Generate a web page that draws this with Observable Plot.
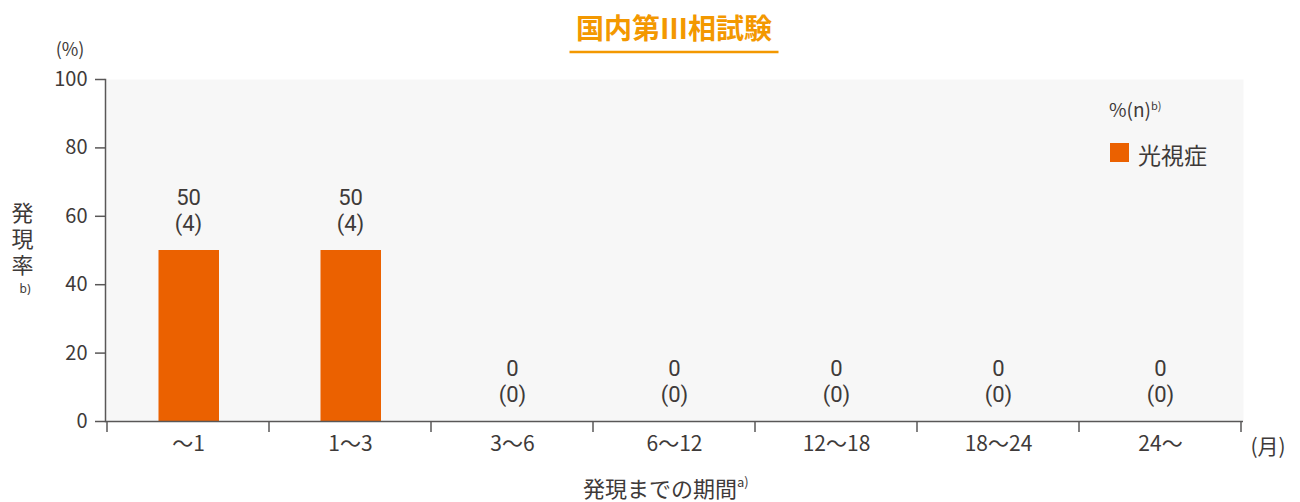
<!DOCTYPE html>
<html>
<head>
<meta charset="utf-8">
<script src="https://cdn.jsdelivr.net/npm/d3@7"></script>
<script src="https://cdn.jsdelivr.net/npm/@observablehq/plot@0.6"></script>
<style>
  html, body { margin: 0; padding: 0; background: #fff; }
</style>
</head>
<body>
<div id="chart"></div>
<script>
// ---- data ----
const categories = ["〜1", "1〜3", "3〜6", "6〜12", "12〜18", "18〜24", "24〜"];
const rates = [50, 50, 0, 0, 0, 0, 0];
const counts = [4, 4, 0, 0, 0, 0, 0];
const yTicks = [0, 20, 40, 60, 80, 100];
const seriesName = "光視症";
const titleText = "国内第Ⅲ相試験";
const xTitle = "発現までの期間";
const yTitle = "発現率";

const data = categories.map((c, i) => ({cat: c, rate: rates[i], n: counts[i]}));

const FONT = "'Noto Sans CJK JP', 'Noto Sans', sans-serif";
const NUMFONT = "Roboto, 'Noto Sans', sans-serif";
const TEXT = "#3e3a39";
const AXIS = "#595757";
const BAR = "#eb6100";
const TITLE = "#f39800";

const plot = Plot.plot({
  width: 1300,
  height: 502,
  marginTop: 79,
  marginBottom: 81,
  marginLeft: 105,
  marginRight: 57,
  style: {fontFamily: FONT, color: TEXT, background: "#fff", overflow: "visible"},
  x: {domain: categories, padding: 0},
  y: {domain: [0, 100], ticks: yTicks},
  marks: [
    Plot.frame({fill: "#f7f7f7", stroke: null}),
    Plot.barY(data, {x: "cat", y: "rate", fill: BAR, insetLeft: 51.5, insetRight: 50}),
    Plot.ruleY([0], {stroke: AXIS, strokeWidth: 1.5}),
    Plot.frame({anchor: "left", stroke: AXIS, strokeWidth: 1.5}),
    Plot.axisY({ticks: yTicks, tickSize: 10, tickPadding: 8, fontSize: 20, label: null, stroke: AXIS, strokeWidth: 1.5, fill: TEXT}),
    Plot.axisX({tickSize: 0, tickPadding: 15, fontSize: 21, label: null, fill: TEXT}),
    Plot.text(data, {
      x: "cat", y: "rate",
      text: d => `${d.rate}`,
      dy: -53, fontSize: 22, fontFamily: NUMFONT, fill: TEXT
    }),
    Plot.text(data, {
      x: "cat", y: "rate",
      text: d => `(${d.n})`,
      dy: -27, fontSize: 22, fontFamily: NUMFONT, fill: TEXT
    })
  ]
});

document.getElementById("chart").appendChild(plot);

const svg = d3.select(plot);
const xs = plot.scale("x");
const ys = plot.scale("y");
const y0 = ys.apply(0);
const xLeft = xs.apply(categories[0]);
const xRight = xs.apply(categories[categories.length - 1]) + xs.bandwidth;

// boundary ticks below the x axis
const bounds = categories.map(c => xs.apply(c)).concat([xRight]);
svg.append("g").selectAll("line").data(bounds).join("line")
  .attr("x1", d => d).attr("x2", d => d)
  .attr("y1", y0).attr("y2", y0 + 11)
  .attr("stroke", AXIS).attr("stroke-width", 1.5);

const mid = (xLeft + xRight) / 2;
const yTop = ys.apply(100);

// title
svg.append("text")
  .attr("x", mid).attr("y", 27)
  .attr("text-anchor", "middle").attr("dominant-baseline", "central")
  .attr("font-family", FONT).attr("font-size", 28).attr("font-weight", "bold")
  .attr("fill", TITLE).text(titleText);
svg.append("line")
  .attr("x1", mid - 104.5).attr("x2", mid + 104.5)
  .attr("y1", 52).attr("y2", 52)
  .attr("stroke", TITLE).attr("stroke-width", 2.5);

// (%) unit
svg.append("text")
  .attr("x", xLeft - 37).attr("y", yTop - 31)
  .attr("text-anchor", "middle").attr("dominant-baseline", "central")
  .attr("font-family", FONT).attr("font-size", 18).attr("fill", TEXT)
  .text("(%)");

// y title (vertical)
svg.append("text")
  .attr("x", 22.5).attr("y", 202)
  .attr("text-anchor", "start")
  .style("writing-mode", "vertical-rl")
  .attr("letter-spacing", 4)
  .attr("font-family", FONT).attr("font-size", 22).attr("fill", TEXT)
  .text(yTitle);
svg.append("text")
  .attr("x", 25).attr("y", 293)
  .attr("text-anchor", "middle")
  .attr("font-family", "'Noto Sans', sans-serif").attr("font-size", 12).attr("fill", TEXT)
  .text("b)");

// (月)
svg.append("text")
  .attr("x", xRight + 27).attr("y", y0 + 24)
  .attr("text-anchor", "middle").attr("dominant-baseline", "central")
  .attr("font-family", FONT).attr("font-size", 21).attr("fill", TEXT)
  .text("(月)");

// x title
const xt = svg.append("text")
  .attr("x", 583).attr("y", 487)
  .attr("text-anchor", "start").attr("dominant-baseline", "central")
  .attr("font-family", FONT).attr("font-size", 22).attr("fill", TEXT);
xt.append("tspan").text(xTitle);
xt.append("tspan").attr("font-size", 13).attr("dy", -6).text("a)");

// legend
const lg = svg.append("text")
  .attr("x", xRight - 132).attr("y", 117)
  .attr("text-anchor", "start")
  .attr("font-family", FONT).attr("font-size", 19).attr("fill", TEXT);
lg.append("tspan").text("%(n)");
lg.append("tspan").attr("font-size", 11).attr("dy", -7).text("b)");

svg.append("rect")
  .attr("x", xRight - 131).attr("y", 143)
  .attr("width", 19).attr("height", 19)
  .attr("fill", BAR);
svg.append("text")
  .attr("x", xRight - 103).attr("y", 154)
  .attr("text-anchor", "start")
  .attr("dominant-baseline", "central")
  .attr("font-family", FONT).attr("font-size", 23).attr("fill", TEXT)
  .text(seriesName);
</script>
</body>
</html>
